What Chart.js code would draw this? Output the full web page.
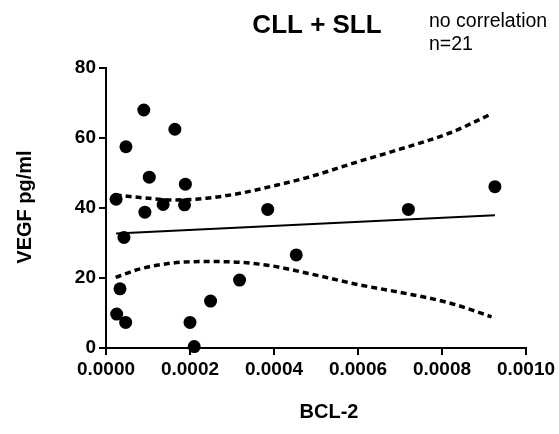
<!DOCTYPE html>
<html>
<head>
<meta charset="utf-8">
<script src="https://cdn.jsdelivr.net/npm/chart.js@4"></script>
<style>
  html, body { margin: 0; padding: 0; background: #fff; }
  #wrap { width: 559px; height: 434px; position: relative; }
</style>
</head>
<body>
<div id="wrap"><canvas id="c" width="559" height="434"></canvas></div>
<script>
// ---- data ----
const bcl2 = [0.000024, 0.0000475, 0.000090, 0.000164, 0.000103, 0.000189, 0.0000926,
              0.000136, 0.000187, 0.000385, 0.0000428, 0.0000333, 0.0000254, 0.0000468,
              0.000200, 0.000210, 0.000249, 0.000318, 0.000453, 0.000720, 0.000926];
const vegf = [42.5, 57.5, 68.0, 62.5, 48.8, 46.8, 38.8,
              41.0, 40.9, 39.6, 31.6, 16.9, 9.7, 7.3,
              7.3, 0.4, 13.4, 19.4, 26.6, 39.6, 46.1];

const fitX = [0.000024, 0.000926];
const fitY = [32.7, 37.9];

const ciX     = [0.0000230, 0.000081, 0.000160, 0.000240, 0.000319, 0.000398, 0.000482, 0.000605, 0.000700, 0.000820, 0.000918];
const ciUpper = [43.7, 43.0, 42.3, 42.8, 44.2, 46.3, 48.8, 53.4, 56.8, 61.5, 66.9];
const ciLower = [20.2, 22.6, 24.3, 24.7, 24.5, 23.4, 21.3, 18.0, 15.9, 12.8, 8.9];

const xTicks = [0, 0.0002, 0.0004, 0.0006, 0.0008, 0.0010];
const yTicks = [0, 20, 40, 60, 80];

const titleText = 'CLL + SLL';
const noteLines = ['no correlation', 'n=21'];
const xTitle = 'BCL-2';
const yTitle = 'VEGF pg/ml';

// ---- build chart ----
const pts = (xs, ys) => xs.map((x, i) => ({ x: x, y: ys[i] }));
const FONT = '"Liberation Sans", Arial, sans-serif';

const textPlugin = {
  id: 'texts',
  afterDraw(chart) {
    const ctx = chart.ctx;
    ctx.save();
    ctx.fillStyle = '#000';
    ctx.textAlign = 'center';
    ctx.textBaseline = 'alphabetic';
    ctx.font = 'bold 26px ' + FONT;
    ctx.fillText(titleText, 317, 33);
    ctx.textAlign = 'left';
    ctx.font = '19.5px ' + FONT;
    ctx.fillText(noteLines[0], 429, 27);
    ctx.fillText(noteLines[1], 429, 50);
    ctx.textAlign = 'center';
    ctx.font = 'bold 20px ' + FONT;
    ctx.fillText(xTitle, 329, 418);
    ctx.translate(31, 207);
    ctx.rotate(-Math.PI / 2);
    ctx.fillText(yTitle, 0, 0);
    ctx.restore();
  }
};

new Chart(document.getElementById('c'), {
  type: 'scatter',
  data: {
    datasets: [
      { data: pts(ciX, ciUpper), showLine: true, borderColor: '#000', borderWidth: 3.5,
        borderDash: [6, 4], pointRadius: 0, cubicInterpolationMode: 'monotone', fill: false, clip: false, order: 3 },
      { data: pts(ciX, ciLower), showLine: true, borderColor: '#000', borderWidth: 3.5,
        borderDash: [6, 4], pointRadius: 0, cubicInterpolationMode: 'monotone', fill: false, clip: false, order: 3 },
      { data: pts(fitX, fitY), showLine: true, borderColor: '#000', borderWidth: 2,
        pointRadius: 0, fill: false, clip: false, order: 2 },
      { data: pts(bcl2, vegf), showLine: false, pointRadius: 6.5, pointBackgroundColor: '#000',
        pointBorderColor: '#000', pointBorderWidth: 0, clip: false, order: 1 }
    ]
  },
  options: {
    responsive: false,
    animation: false,
    events: [],
    layout: { padding: { left: 0, right: 33, top: 68, bottom: 0 } },
    plugins: { legend: { display: false }, tooltip: { enabled: false }, title: { display: false } },
    scales: {
      x: {
        type: 'linear', min: 0, max: 0.001,
        afterFit(s) { s.height = 86; },
        afterBuildTicks(s) { s.ticks = xTicks.map(v => ({ value: v })); },
        grid: { drawOnChartArea: false, drawTicks: true, tickLength: 7, color: '#000', lineWidth: 2 },
        border: { color: '#000', width: 2 },
        ticks: { color: '#000', padding: 3, maxRotation: 0, autoSkip: false,
                 font: { family: FONT, size: 19, weight: 'bold' },
                 callback: v => Number(v).toFixed(4) }
      },
      y: {
        type: 'linear', min: 0, max: 80,
        afterFit(s) { s.width = 106; },
        afterBuildTicks(s) { s.ticks = yTicks.map(v => ({ value: v })); },
        grid: { drawOnChartArea: false, drawTicks: true, tickLength: 7, color: '#000', lineWidth: 2 },
        border: { color: '#000', width: 2 },
        ticks: { color: '#000', padding: 3, font: { family: FONT, size: 19, weight: 'bold' } }
      }
    }
  },
  plugins: [textPlugin]
});
</script>
</body>
</html>
